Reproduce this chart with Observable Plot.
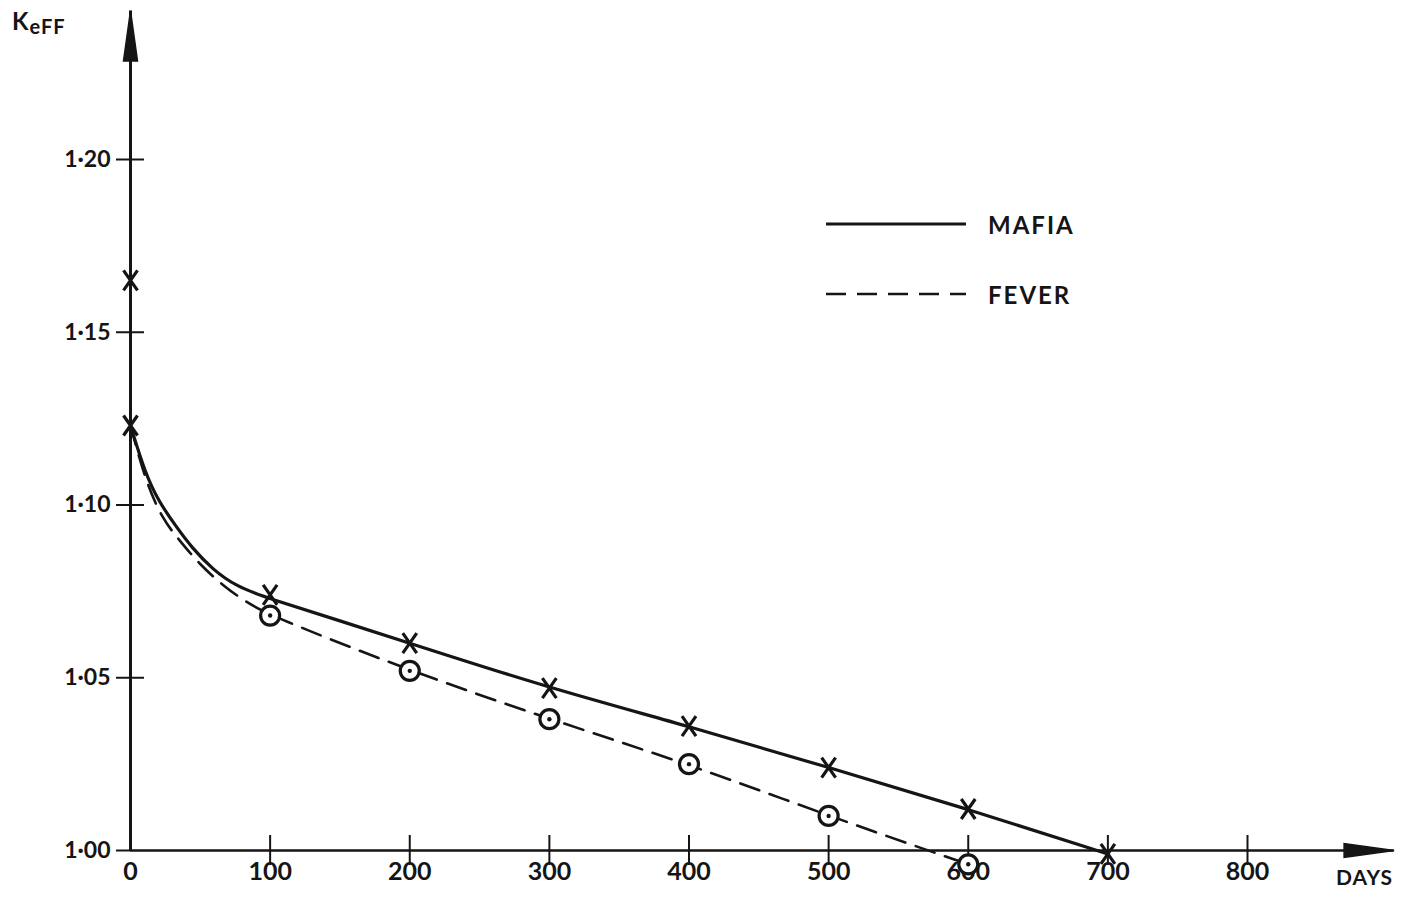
<!DOCTYPE html>
<html><head><meta charset="utf-8">
<script src="https://cdn.jsdelivr.net/npm/d3@7"></script>
<script src="https://cdn.jsdelivr.net/npm/@observablehq/plot@0.6"></script>
<style>
body{margin:0;background:#fff;}
#wrap{position:relative;width:1427px;height:902px;font-family:Lato,"DejaVu Sans",sans-serif;color:#151515;}
#keff{position:absolute;left:12px;top:6px;font-size:24px;font-weight:700;letter-spacing:1px;}
#keff sub{font-size:20px;vertical-align:-4px;}
#days{position:absolute;left:1336px;top:864px;font-size:21px;font-weight:700;letter-spacing:1px;}
#legend{position:absolute;left:826px;top:204px;font-size:24px;font-weight:700;letter-spacing:2px;}
#legend .row{display:flex;align-items:center;height:40px;margin-bottom:30px;}
#legend svg{margin-right:22px;}
</style></head><body>
<div id="wrap">
  <div id="keff">K<sub>eFF</sub></div>
  <div id="days">DAYS</div>
  <div id="legend"></div>
</div>
<script>
// Tick values and labels
const xTicks = [0, 100, 200, 300, 400, 500, 600, 700, 800];
const yTicks = [1.00, 1.05, 1.10, 1.15, 1.20];
const yTickLabels = ["1·00", "1·05", "1·10", "1·15", "1·20"];
const axisEnd = {x: 905, y: 1.243};

// Calculated points (markers)
const mafiaDays = [0, 0, 100, 200, 300, 400, 500, 600, 700];
const mafiaK    = [1.165, 1.123, 1.074, 1.060, 1.047, 1.036, 1.024, 1.012, 0.999];
const feverDays = [100, 200, 300, 400, 500, 600];
const feverK    = [1.068, 1.052, 1.038, 1.025, 1.010, 0.996];

// Drawn curves
const mafiaCurveDays = [0, 10.7, 20.3, 32.2, 44.2, 58.5, 75.2, 100, 150, 200, 300, 400, 500, 600, 700];
const mafiaCurveK    = [1.123, 1.109, 1.101, 1.094, 1.0875, 1.0815, 1.0765, 1.0728, 1.0665, 1.060, 1.047, 1.036, 1.024, 1.012, 0.999];
const feverCurveDays = [0, 10.7, 22.7, 34.6, 49, 68, 84.7, 100, 200, 300, 400, 500, 600];
const feverCurveK    = [1.123, 1.107, 1.096, 1.090, 1.083, 1.076, 1.0715, 1.068, 1.052, 1.038, 1.025, 1.010, 0.996];

const seriesNames = ["MAFIA", "FEVER"];

const ink = "#151515";
const mafia = mafiaDays.map((d, i) => ({d, k: mafiaK[i]}));
const fever = feverDays.map((d, i) => ({d, k: feverK[i]}));
const mafiaCurve = mafiaCurveDays.map((d, i) => ({d, k: mafiaCurveK[i]}));
const feverCurve = feverCurveDays.map((d, i) => ({d, k: feverCurveK[i]}));

// custom symbols
const arrowHead = {draw(ctx) { ctx.moveTo(0, 0); ctx.lineTo(-50, -7); ctx.lineTo(-50, 7); ctx.closePath(); }};
const cross = {draw(ctx) { ctx.moveTo(-7, -10); ctx.lineTo(7, 10); ctx.moveTo(7, -10); ctx.lineTo(-7, 10); }};

const fmtY = d => yTickLabels[yTicks.findIndex(v => Math.abs(v - d) < 1e-9)];

const chart = Plot.plot({
  width: 1427, height: 902,
  marginLeft: 130, marginRight: 180, marginTop: 159, marginBottom: 52,
  style: {fontFamily: "Lato, 'DejaVu Sans', sans-serif", fontSize: "22px", fontWeight: 700, color: ink, background: "transparent"},
  x: {domain: [0, 800], label: null},
  y: {domain: [1.0, 1.2], label: null},
  marks: [
    // axis lines
    Plot.ruleY([1.0], {x1: 0, x2: axisEnd.x, stroke: ink, strokeWidth: 2.5}),
    Plot.ruleX([0], {y1: 1.0, y2: axisEnd.y, stroke: ink, strokeWidth: 3}),
    Plot.dot([{d: axisEnd.x, k: 1.0}], {x: "d", y: "k", symbol: arrowHead, fill: ink, stroke: ink, r: 5}),
    Plot.dot([{d: 0, k: axisEnd.y}], {x: "d", y: "k", symbol: arrowHead, fill: ink, stroke: ink, r: 5, rotate: -90}),
    // ticks (crossing the axis)
    Plot.axisX({ticks: xTicks.filter(t => t > 0), tickSize: 15, tickFormat: () => "", label: null, stroke: ink, strokeWidth: 2}),
    Plot.axisX({ticks: xTicks.filter(t => t > 0), tickSize: -15, tickFormat: () => "", label: null, stroke: ink, strokeWidth: 2}),
    Plot.axisX({ticks: xTicks, tickSize: 0, tickPadding: 12, label: null, fontSize: 25, fontWeight: 700, fill: ink}),
    Plot.axisY({ticks: yTicks, tickSize: 14, tickPadding: 6, tickFormat: fmtY, label: null, stroke: ink, strokeWidth: 2, fontSize: 23, fill: ink}),
    Plot.axisY({ticks: yTicks.filter(t => t > 1.0), tickSize: -14, tickFormat: () => "", label: null, stroke: ink, strokeWidth: 2}),
    // curves
    Plot.line(mafiaCurve, {x: "d", y: "k", curve: "basis", stroke: ink, strokeWidth: 3.2}),
    Plot.line(feverCurve, {x: "d", y: "k", curve: "basis", stroke: ink, strokeWidth: 2.6, strokeDasharray: "20,11"}),
    // markers
    Plot.dot(mafia, {x: "d", y: "k", symbol: cross, stroke: ink, strokeWidth: 3.2, r: 5}),
    Plot.dot(fever, {x: "d", y: "k", r: 9.5, fill: "#fff", stroke: ink, strokeWidth: 3.2}),
    Plot.dot(fever, {x: "d", y: "k", r: 2.2, fill: ink, stroke: "none"})
  ]
});
document.getElementById("wrap").prepend(chart);
chart.style.position = "absolute"; chart.style.left = "0"; chart.style.top = "0";

// in-chart legend
const legend = d3.select("#legend");
seriesNames.forEach((name, i) => {
  const row = legend.append("div").attr("class", "row");
  const svg = row.append("svg").attr("width", 140).attr("height", 10);
  svg.append("line").attr("x1", 0).attr("x2", 140).attr("y1", 5).attr("y2", 5)
    .attr("stroke", ink).attr("stroke-width", i === 0 ? 3.2 : 2.6)
    .attr("stroke-dasharray", i === 0 ? null : "20,11");
  row.append("span").text(name);
});
</script>
</body></html>
